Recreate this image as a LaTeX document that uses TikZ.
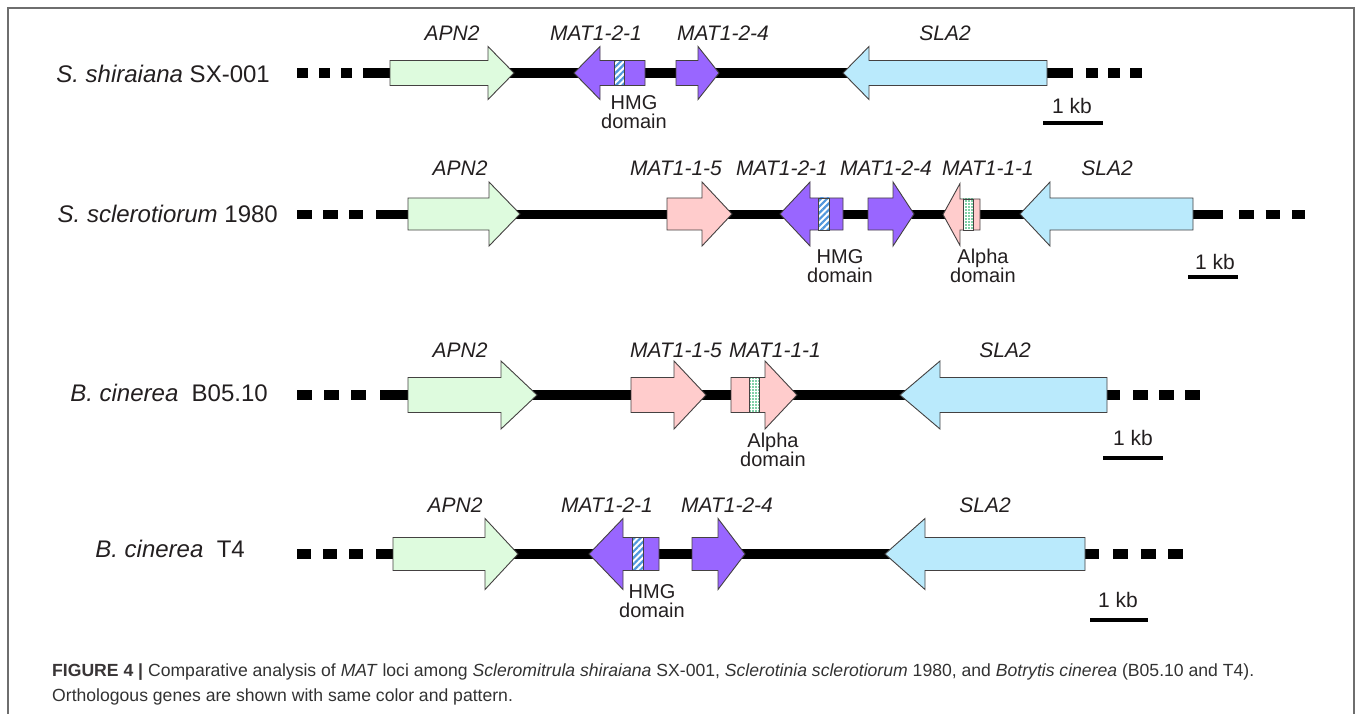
\documentclass[tikz,border=0pt]{standalone}
\usepackage{fontspec}
\setmainfont{Liberation Sans}
\usetikzlibrary{patterns.meta}

\definecolor{ink}{RGB}{35,31,32}
\definecolor{apn}{RGB}{222,251,222}
\definecolor{matone}{RGB}{255,204,204}
\definecolor{mattwo}{RGB}{153,102,255}
\definecolor{sla}{RGB}{186,234,252}
\definecolor{hmgblue}{RGB}{80,150,220}
\definecolor{alphagreen}{RGB}{0,160,80}
\definecolor{frame}{RGB}{110,110,110}
\definecolor{captext}{RGB}{50,50,50}

% forward gene: left, head base, tip, y, half body, half head, fill
\newcommand\fwdgene[7]{%
  \draw[gene,fill=#7] (#1,#4-#5) -- (#2,#4-#5) -- (#2,#4-#6) -- (#3,#4)
    -- (#2,#4+#6) -- (#2,#4+#5) -- (#1,#4+#5) -- cycle;}
% reverse gene: tip, head base, right, y, half body, half head, fill
\newcommand\revgene[7]{%
  \draw[gene,fill=#7] (#3,#4-#5) -- (#2,#4-#5) -- (#2,#4-#6) -- (#1,#4)
    -- (#2,#4+#6) -- (#2,#4+#5) -- (#3,#4+#5) -- cycle;}
% domain box: x1, x2, y, half body, pattern style
\newcommand\domainbox[5]{%
  \draw[gene,#5] (#1,#3-#4) rectangle (#2,#3+#4);}

\tikzset{
  gene/.style={draw=ink!85, line width=0.9pt, line join=miter},
  backbone/.style={line width=9.5pt, draw=black},
  hmgpat/.style={preaction={fill=white},
    pattern={Lines[angle=45,distance=4.5pt,line width=2.2pt]}, pattern color=hmgblue},
  alphapat/.style={preaction={fill=white},
    pattern={Dots[distance=3pt,radius=0.85pt]}, pattern color=alphagreen},
  genelabel/.style={font=\fontsize{21}{24}\selectfont\itshape, text=ink, inner sep=0pt},
  species/.style={font=\fontsize{24}{28}\selectfont, text=ink, inner sep=0pt, anchor=east},
  domlabel/.style={font=\fontsize{20}{19.5}\selectfont, text=ink, inner sep=0pt, align=center},
  kblabel/.style={font=\fontsize{21}{24}\selectfont, text=ink, inner sep=0pt},
  scalebar/.style={line width=4.5pt, draw=black},
  caption/.style={font=\fontsize{17.6}{20}\selectfont, text=captext, inner sep=0pt, anchor=west},
}

\begin{document}
\begin{tikzpicture}[x=1pt,y=-1pt]
\useasboundingbox (0,0) rectangle (1357,714);

% frame
\draw[frame, line width=1.3pt] (8,714) -- (8,8) -- (1354,8) -- (1354,714);

% ---------- row 1: S. shiraiana SX-001 ----------
\node[species] (sp1) at (270,74) {\textit{S. shiraiana} SX-001};
\draw[backbone, dash pattern=on 11pt off 11pt] (297,73) -- (352,73);
\draw[backbone] (363,73) -- (1073,73);
\draw[backbone, dash pattern=on 11.5pt off 10.5pt] (1086,73) -- (1142,73);
\fwdgene{390}{488}{514}{73}{12.5}{26.5}{apn}
\revgene{574}{600}{645}{73}{12.5}{26.5}{mattwo}
\domainbox{614}{624}{73}{12.5}{hmgpat}
\fwdgene{676}{698}{719}{73}{12.5}{26.5}{mattwo}
\revgene{843}{869}{1047}{73}{12.5}{26.5}{sla}
\node[genelabel] (g1a) at (452,33) {APN2};
\node[genelabel] (g1b) at (596,33) {MAT1-2-1};
\node[genelabel] (g1c) at (723,33) {MAT1-2-4};
\node[genelabel] (g1d) at (945,33) {SLA2};
\node[domlabel] (d1) at (634,112) {HMG\\domain};
\node[kblabel] (k1) at (1072,106) {1 kb};
\draw[scalebar] (1043,123) -- (1103,123);

% ---------- row 2: S. sclerotiorum 1980 ----------
\node[species] (sp2) at (278,214) {\textit{S. sclerotiorum} 1980};
\draw[backbone, dash pattern=on 14.5pt off 11.5pt] (297,214.5) -- (363,214.5);
\draw[backbone] (376,214.5) -- (1223,214.5);
\draw[backbone, dash pattern=on 14.5pt off 12pt] (1239,214.5) -- (1305,214.5);
\fwdgene{408}{489}{520}{214}{16}{32}{apn}
\fwdgene{667}{702}{732}{214}{16}{32}{matone}
\revgene{780}{810}{843}{214}{16}{32}{mattwo}
\domainbox{818}{829}{214}{16}{hmgpat}
\fwdgene{868}{893}{914}{214}{16}{32}{mattwo}
\revgene{943}{960}{980}{214.5}{15.5}{31}{matone}
\domainbox{963}{973}{214.5}{15.5}{alphapat}
\revgene{1020}{1050}{1193}{214}{16}{32}{sla}
\node[genelabel] (g2a) at (460,168) {APN2};
\node[genelabel] (g2b) at (676,168) {MAT1-1-5};
\node[genelabel] (g2c) at (782,168) {MAT1-2-1};
\node[genelabel] (g2d) at (886,168) {MAT1-2-4};
\node[genelabel] (g2e) at (988,168) {MAT1-1-1};
\node[genelabel] (g2f) at (1107,168) {SLA2};
\node[domlabel] (d2a) at (840,266) {HMG\\domain};
\node[domlabel] (d2b) at (983,266) {Alpha\\domain};
\node[kblabel] (k2) at (1215,262) {1 kb};
\draw[scalebar] (1188,277) -- (1238,277);

% ---------- row 3: B. cinerea B05.10 ----------
\node[species] (sp3) at (268,393) {\textit{B. cinerea}\ \ B05.10};
\draw[backbone, dash pattern=on 15pt off 12pt] (297,395) -- (366,395);
\draw[backbone] (380,395) -- (1120,395);
\draw[backbone, dash pattern=on 15pt off 11pt] (1133,395) -- (1200,395);
\fwdgene{408}{501}{537}{395}{17.5}{34}{apn}
\fwdgene{631}{674}{706}{395}{17.5}{34}{matone}
\fwdgene{731}{765}{797}{395}{17.5}{34}{matone}
\domainbox{749}{759}{395}{17.5}{alphapat}
\revgene{900}{940}{1107}{395}{17.5}{34}{sla}
\node[genelabel] (g3a) at (460,350) {APN2};
\node[genelabel] (g3b) at (676,350) {MAT1-1-5};
\node[genelabel] (g3c) at (775,350) {MAT1-1-1};
\node[genelabel] (g3d) at (1005,350) {SLA2};
\node[domlabel] (d3) at (773,450) {Alpha\\domain};
\node[kblabel] (k3) at (1133,438) {1 kb};
\draw[scalebar] (1103,458) -- (1163,458);

% ---------- row 4: B. cinerea T4 ----------
\node[species] (sp4) at (245,549) {\textit{B. cinerea}\ \ T4};
\draw[backbone, dash pattern=on 14pt off 12pt] (297,554) -- (363,554);
\draw[backbone] (376,554) -- (1099,554);
\draw[backbone, dash pattern=on 15pt off 12.5pt] (1113,554) -- (1183,554);
\fwdgene{393}{485}{518}{554}{16.5}{35.5}{apn}
\revgene{589}{623}{659}{554}{16.5}{35.5}{mattwo}
\domainbox{632}{643}{554}{16.5}{hmgpat}
\fwdgene{692}{718}{745}{554}{16.5}{35.5}{mattwo}
\revgene{885}{925}{1085}{554}{16.5}{35.5}{sla}
\node[genelabel] (g4a) at (455,505) {APN2};
\node[genelabel] (g4b) at (607,505) {MAT1-2-1};
\node[genelabel] (g4c) at (727,505) {MAT1-2-4};
\node[genelabel] (g4d) at (985,505) {SLA2};
\node[domlabel] (d4) at (652,601) {HMG\\domain};
\node[kblabel] (k4) at (1118,600) {1 kb};
\draw[scalebar] (1090,620) -- (1148,620);

% ---------- caption ----------
\node[caption] (cap1) at (52,672) {{\bfseries\color{ink!90}FIGURE 4 |} Comparative analysis of \textit{MAT} loci among \textit{Scleromitrula shiraiana} SX-001, \textit{Sclerotinia sclerotiorum} 1980, and \textit{Botrytis cinerea} (B05.10 and T4).};
\node[caption] (cap2) at (52,697) {Orthologous genes are shown with same color and pattern.};
\end{tikzpicture}
\end{document}
